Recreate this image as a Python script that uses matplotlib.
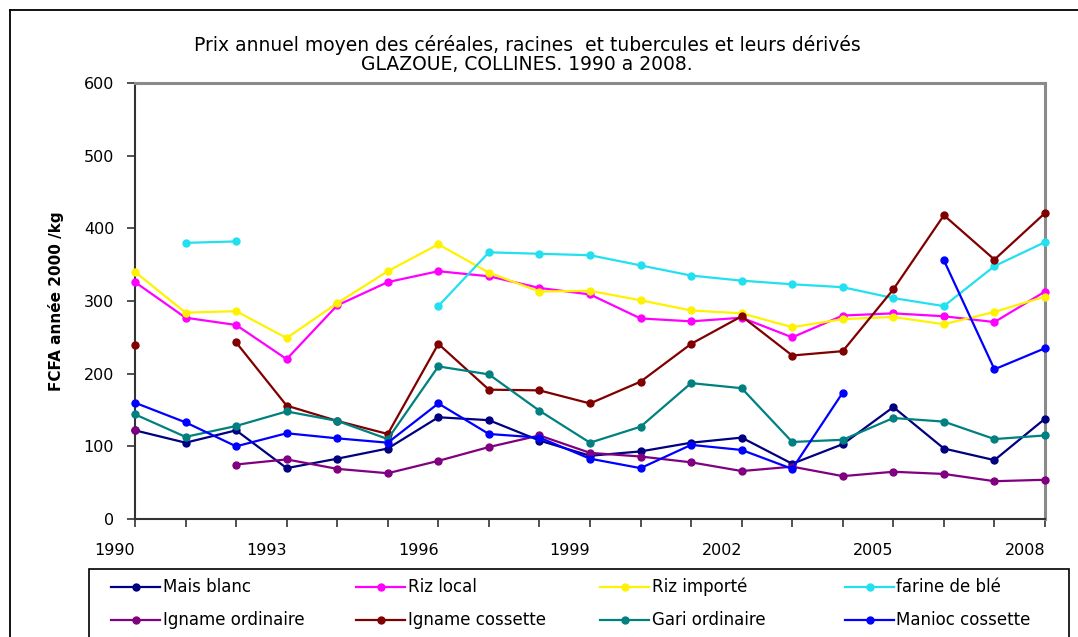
import numpy as np
import matplotlib
matplotlib.use("Agg")
import matplotlib.pyplot as plt
from matplotlib.lines import Line2D
from matplotlib.patches import Rectangle
from matplotlib.transforms import ScaledTranslation

nan = np.nan

years = list(range(1990, 2009))

mais_blanc = [122, 105, 122, 70, 83, 97, 140, 136, 108, 87, 93, 105, 112, 76, 103, 154, 97, 81, 138]
riz_local = [326, 277, 267, 220, 294, 326, 341, 334, 318, 309, 276, 272, 277, 250, 280, 283, 279, 271, 313]
riz_importe = [340, 284, 286, 249, 297, 341, 378, 339, 313, 314, 301, 287, 283, 264, 275, 278, 268, 285, 306]
farine_ble = [nan, 380, 382, nan, nan, nan, 293, 367, 365, 363, 349, 335, 328, 323, 319, 304, 293, 348, 381]
igname_ordinaire = [122, nan, 75, 82, 69, 63, 80, 99, 115, 91, 86, 78, 66, 72, 59, 65, 62, 52, 54]
igname_cossette = [240, nan, 243, 156, 135, 117, 241, 178, 177, 159, 189, 241, 279, 225, 231, 316, 418, 357, 421]
gari_ordinaire = [144, 113, 128, 148, 135, 110, 210, 199, 149, 105, 127, 187, 180, 106, 109, 139, 134, 110, 115]
manioc_cossette = [160, 133, 100, 118, 111, 105, 159, 117, 112, 83, 70, 102, 95, 69, 174, nan, 356, 206, 235]

series_names = ["Mais blanc", "Riz local", "Riz importé", "farine de blé",
                "Igname ordinaire", "Igname cossette", "Gari ordinaire", "Manioc cossette"]
series_values = [mais_blanc, riz_local, riz_importe, farine_ble,
                 igname_ordinaire, igname_cossette, gari_ordinaire, manioc_cossette]
series_colors = ["#000080", "#FF00FF", "#FFF200", "#22E0F0",
                 "#800080", "#800000", "#008080", "#0000FF"]

xtick_labels = [1990, 1993, 1996, 1999, 2002, 2005, 2008]
yticks = [0, 100, 200, 300, 400, 500, 600]

W, H = 1078, 637
fig = plt.figure(figsize=(W / 100, H / 100), dpi=100)
plt.rcParams['font.family'] = ['DejaVu Sans']


def fx(px):
    return px / W


def fy(py):
    return 1 - py / H


ax = fig.add_axes([fx(135), fy(519), fx(1045) - fx(135), fy(83) - fy(519)])

for name, vals, col in zip(series_names, series_values, series_colors):
    ax.plot(years, vals, color=col, lw=1.6, marker="o", ms=5,
            label=name, clip_on=False, zorder=3)

ax.set_xlim(1990, 2008)
ax.set_ylim(0, 600)
ax.set_yticks(yticks)
ax.set_xticks(years)
ax.set_xticklabels([str(y) if y in xtick_labels else "" for y in years])

ax.tick_params(axis="both", direction="out", length=6, width=1.2,
               colors="#333333", labelcolor="black", labelsize=11.5)
ax.tick_params(axis="x", pad=11)
ax.tick_params(axis="y", pad=9)

shift = ScaledTranslation(-20 / 100, 0, fig.dpi_scale_trans)
for lab in ax.get_xticklabels():
    lab.set_transform(lab.get_transform() + shift)

for side in ("left", "bottom"):
    ax.spines[side].set_color("#333333")
    ax.spines[side].set_linewidth(1.5)
for side in ("top", "right"):
    ax.spines[side].set_color("#8a8a8a")
    ax.spines[side].set_linewidth(2.2)

ax.set_ylabel("FCFA année 2000 /kg", fontsize=11, fontweight="bold")
ax.yaxis.set_label_coords((64 - 135) / 910, 0.5)

fig.text(fx(527), fy(45), "Prix annuel moyen des céréales, racines  et tubercules et leurs dérivés",
         ha="center", va="center", fontsize=13.5)
fig.text(fx(527), fy(64), "GLAZOUE, COLLINES. 1990 a 2008.",
         ha="center", va="center", fontsize=13.5)

# outer chart border (top and left edges visible)
fig.add_artist(Line2D([fx(9.5), fx(1080)], [fy(10), fy(10)], color="black", lw=1.3))
fig.add_artist(Line2D([fx(9.5), fx(9.5)], [fy(10), fy(645)], color="black", lw=1.3))

# legend box
fig.add_artist(Rectangle((fx(89), fy(650)), fx(1069) - fx(89), fy(569) - fy(650),
                         fill=False, edgecolor="black", lw=1.2))
for i, (name, col) in enumerate(zip(series_names, series_colors)):
    r, c = divmod(i, 4)
    y = fy(587 + 33 * r)
    x0 = 111 + 244.5 * c
    fig.add_artist(Line2D([fx(x0), fx(x0 + 49)], [y, y], color=col, lw=1.6))
    fig.add_artist(Line2D([fx(x0 + 25)], [y], color=col, marker="o", ms=5, lw=0))
    fig.text(fx(x0 + 52), y, name, ha="left", va="center", fontsize=12)

fig.savefig("out.png", dpi=100)
